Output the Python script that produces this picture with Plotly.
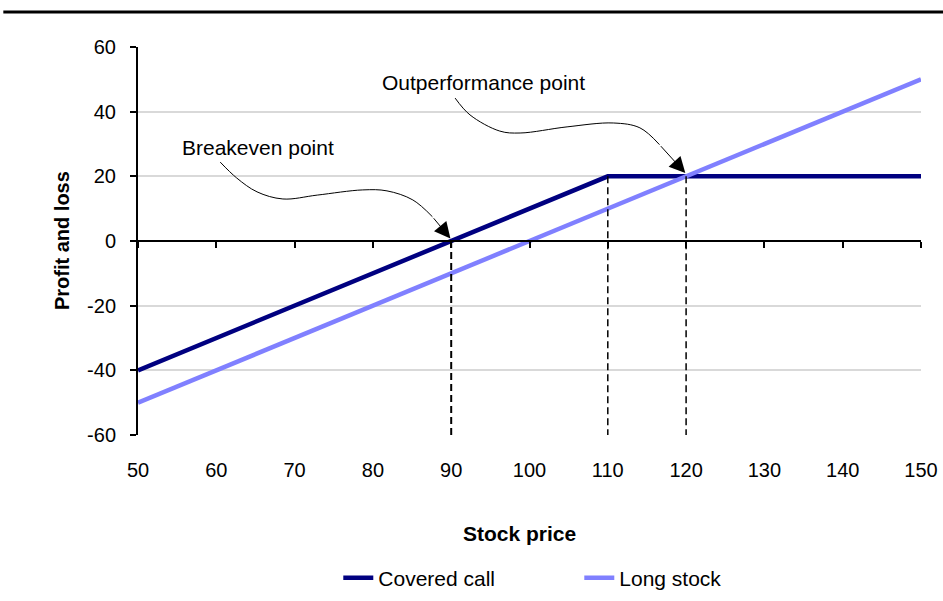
import plotly.graph_objects as go

# ---- data ----
stock_price = [50, 60, 70, 80, 90, 100, 110, 120, 130, 140, 150]
covered_call = [-40, -30, -20, -10, 0, 10, 20, 20, 20, 20, 20]
long_stock = [-50, -40, -30, -20, -10, 0, 10, 20, 30, 40, 50]

x_ticks = [50, 60, 70, 80, 90, 100, 110, 120, 130, 140, 150]
y_ticks = [-60, -40, -20, 0, 20, 40, 60]
y_tick_labels = ["-60", "-40", "-20", "0", "20", "40", "60"]

# reference (dashed) lines: x position, top value, bottom value
ref_x = [90, 110, 120]
ref_top = [0, 20, 20]
ref_bottom = [-60, -60, -60]
ref_width = [2, 1.5, 1.5]

# callout curves (data coordinates)
be_curve_x = [60.5, 62.6, 65.2, 68.5, 72.9, 78.7, 81.8, 85.1, 87.6]
be_curve_y = [24.4, 19.5, 15.2, 13.0, 14.2, 15.8, 15.5, 12.7, 7.5]
be_tip = (89.9, 0.8)
op_curve_x = [90.5, 92.4, 96.2, 98.8, 104.8, 110.7, 114.1, 116.6]
op_curve_y = [44.2, 39.0, 34.0, 33.4, 35.3, 36.5, 35.0, 29.8]
op_tip = (119.9, 21.0)

FONT = "Liberation Sans, Arial, sans-serif"

fig = go.Figure()

for xv, t, b, w in zip(ref_x, ref_top, ref_bottom, ref_width):
    fig.add_trace(go.Scatter(x=[xv, xv], y=[t, b], mode="lines", xaxis="x2",
                             line=dict(color="black", width=w, dash="7px,4px"),
                             showlegend=False, hoverinfo="skip"))

fig.add_trace(go.Scatter(x=stock_price, y=covered_call, mode="lines", name="Covered call",
                         line=dict(color="#000080", width=4.5)))
fig.add_trace(go.Scatter(x=stock_price, y=long_stock, mode="lines", name="Long stock",
                         line=dict(color="#8080FF", width=4.5)))

for cx, cy in ((be_curve_x, be_curve_y), (op_curve_x, op_curve_y)):
    fig.add_trace(go.Scatter(x=cx, y=cy, mode="lines", line=dict(color="black", width=1, shape="spline"),
                             showlegend=False, hoverinfo="skip"))

annotations = [
    dict(x=be_tip[0], y=be_tip[1], ax=be_curve_x[-1], ay=be_curve_y[-1], xref="x", yref="y",
         axref="x", ayref="y", text="", showarrow=True, arrowhead=2, arrowsize=3.2,
         arrowwidth=1, arrowcolor="black"),
    dict(x=op_tip[0], y=op_tip[1], ax=op_curve_x[-1], ay=op_curve_y[-1], xref="x", yref="y",
         axref="x", ayref="y", text="", showarrow=True, arrowhead=2, arrowsize=3.2,
         arrowwidth=1, arrowcolor="black"),
    dict(x=55.4, y=28.8, xref="x", yref="y", text="Breakeven point", showarrow=False,
         xanchor="left", yanchor="middle", font=dict(family=FONT, size=21, color="black")),
    dict(x=80.9, y=48.9, xref="x", yref="y", text="Outperformance point", showarrow=False,
         xanchor="left", yanchor="middle", font=dict(family=FONT, size=21, color="black")),
    dict(x=0.4866, y=-0.2526, xref="paper", yref="paper", text="<b>Stock price</b>", showarrow=False,
         xanchor="center", yanchor="middle", font=dict(family=FONT, size=21, color="black")),
    dict(x=-0.097, y=0.5, xref="paper", yref="paper", text="<b>Profit and loss</b>", showarrow=False,
         textangle=-90, xanchor="center", yanchor="middle", font=dict(family=FONT, size=20, color="black")),
]

fig.update_layout(
    width=943, height=601,
    margin=dict(l=138, r=22, t=47, b=166, autoexpand=False),
    plot_bgcolor="white", paper_bgcolor="white",
    font=dict(family=FONT, size=20, color="black"),
    showlegend=True,
    legend=dict(orientation="h", x=0.2558, xanchor="left", y=-0.369, yanchor="middle",
                font=dict(family=FONT, size=21, color="black"),
                entrywidth=196, entrywidthmode="pixels", traceorder="normal"),
    xaxis=dict(range=[50, 150], tickvals=x_ticks, showline=False, showgrid=False, zeroline=False,
               ticks="", ticklabelstandoff=21, tickfont=dict(family=FONT, size=20)),
    xaxis2=dict(range=[50, 150], matches="x", overlaying="x", anchor="free", position=0.5,
                tickvals=x_ticks, showticklabels=False, showline=True, linecolor="black", linewidth=2,
                ticks="outside", ticklen=6, tickwidth=2, tickcolor="black", showgrid=False, zeroline=False),
    yaxis=dict(range=[-60, 60], tickvals=y_ticks, ticktext=y_tick_labels,
               showline=True, linecolor="black", linewidth=2,
               ticks="outside", ticklen=6, tickwidth=2, tickcolor="black",
               showgrid=True, gridcolor="#d9d9d9", gridwidth=2, zeroline=False,
               ticklabelstandoff=10, tickfont=dict(family=FONT, size=20)),
    annotations=annotations,
    shapes=[dict(type="line", xref="paper", yref="paper", x0=-0.172, x1=1.03, y0=1.0902, y1=1.0902,
                 line=dict(color="black", width=3))],
)

fig.write_html("out.html", config={"displayModeBar": False},
               post_script="document.body.style.margin='0';")
